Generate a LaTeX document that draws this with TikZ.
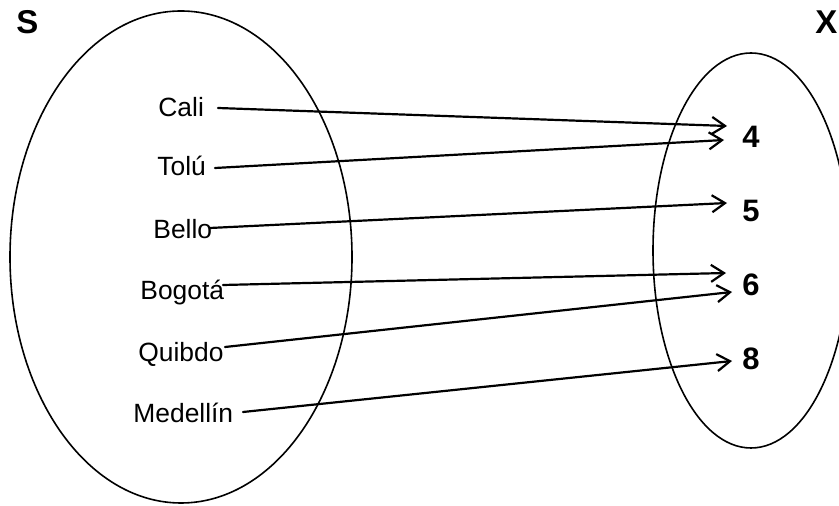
\documentclass[tikz,border=0pt]{standalone}
\usepackage{fontspec}
\setmainfont{Liberation Sans}
\usepackage{tikz}
\usetikzlibrary{calc,arrows.meta}
\definecolor{ink}{HTML}{000000}
\tikzset{
  set/.style={draw=ink, line width=0.8pt},
  map/.style={draw=ink, line width=1.1pt, line cap=round, -{Straight Barb[length=6.5pt,width=8.5pt,line width=1.1pt]}},
  city/.style={anchor=base west, inner sep=0pt, text=ink, font=\fontsize{13.2}{15}\selectfont},
  num/.style={anchor=base west, inner sep=0pt, text=ink, font=\bfseries\fontsize{15.5}{18}\selectfont},
  setname/.style={anchor=base west, inner sep=0pt, text=ink, font=\bfseries\fontsize{16.5}{19}\selectfont},
}
\begin{document}
\begin{tikzpicture}[x=0.5pt,y=-0.5pt]
  \useasboundingbox (0,0) rectangle (839,506);
  % the two sets
  \draw[set] (181,257) ellipse [x radius=171, y radius=246];
  \draw[set] (751,250.5) ellipse [x radius=98, y radius=197.5];
  \node[setname] (S) at (16,34) {S};
  \node[setname] (X) at (815,34) {X};
  % elements of S
  \node[city] (cali) at (158,117) {Cali};
  \node[city] (tolu) at (157,176) {Tolú};
  \node[city] (bello) at (153,239) {Bello};
  \node[city] (bogota) at (140,300) {Bogotá};
  \node[city] (quibdo) at (138,362) {Quibdo};
  \node[city] (medellin) at (133,423) {Medellín};
  % elements of X
  \node[num] (n4) at (742,148) {4};
  \node[num] (n5) at (742,222) {5};
  \node[num] (n6) at (742,296) {6};
  \node[num] (n8) at (742,370) {8};
  % the mapping
  \draw[map] ($(cali.base west)+(60,-9)$) -- ($(n4.base west)+(-15,-22)$);
  \draw[map] ($(tolu.base west)+(58,-8)$) -- ($(n4.base west)+(-18,-8)$);
  \draw[map] ($(bello.base west)+(57,-11)$) -- ($(n5.base west)+(-15,-19)$);
  \draw[map] ($(bogota.base west)+(83,-15)$) -- ($(n6.base west)+(-16,-23)$);
  \draw[map] ($(quibdo.base west)+(87,-15)$) -- ($(n6.base west)+(-10,-4)$);
  \draw[map] ($(medellin.base west)+(110,-11)$) -- ($(n8.base west)+(-10,-9)$);
\end{tikzpicture}
\end{document}
